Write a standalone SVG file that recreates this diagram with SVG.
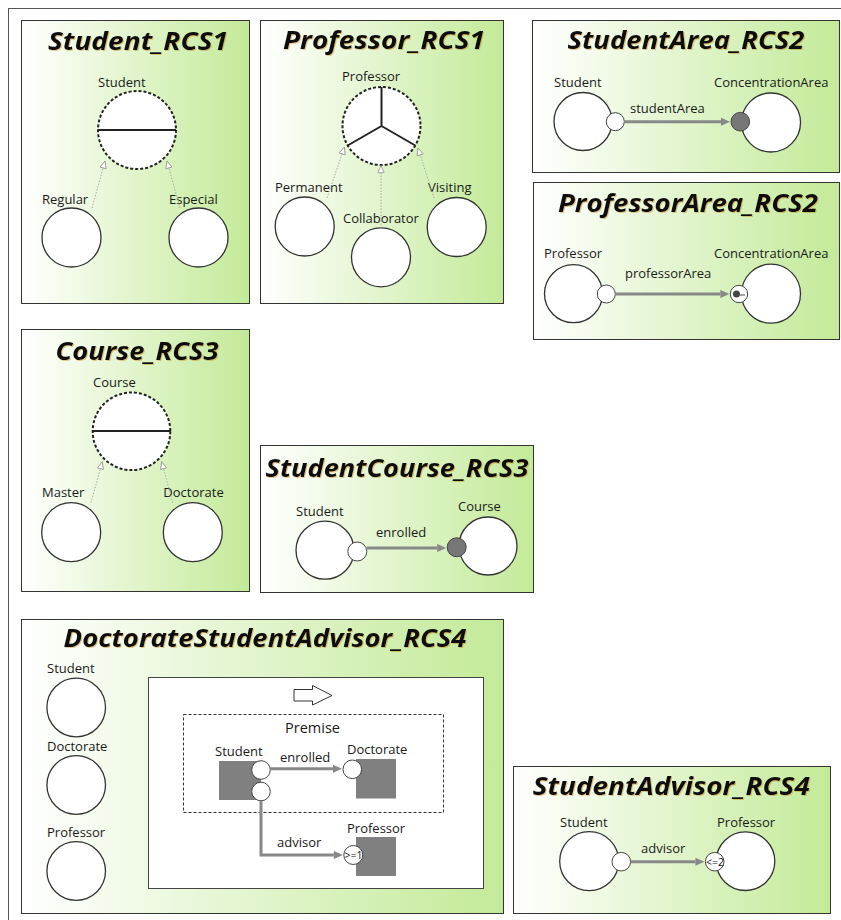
<svg xmlns="http://www.w3.org/2000/svg" width="841" height="920" viewBox="0 0 841 920">
<style>
.panel{fill:url(#pg);stroke:#333;stroke-width:1}
.title{font-family:"Open Sans","DejaVu Sans",sans-serif;font-weight:bold;font-style:italic;font-size:25px;fill:#111;text-anchor:middle;filter:url(#glow)}
.lbl{font-family:"Open Sans","DejaVu Sans",sans-serif;font-size:13px;fill:#1a1a1a}
.node{fill:#fff;stroke:#333;stroke-width:1.3}
.dnode{fill:#fff;stroke:#222;stroke-width:2;stroke-dasharray:3 2}
.div{stroke:#222;stroke-width:2;fill:none}
.port{fill:#fff;stroke:#444;stroke-width:1}
.fport{fill:#777;stroke:#444;stroke-width:1}
.gen{stroke:#aaa;stroke-width:1;stroke-dasharray:1.5 1.5;fill:none;marker-end:url(#genh)}
.rel{stroke:#888;stroke-width:3;fill:none;marker-end:url(#arr)}
.grect{fill:#808080}
.card{font-family:"Open Sans","DejaVu Sans",sans-serif;font-size:10.5px;fill:#111;text-anchor:middle}
</style>
<defs>
<linearGradient id="pg" x1="0" y1="0" x2="1" y2="0">
<stop offset="0" stop-color="#ffffff"/>
<stop offset="1" stop-color="#c3ea98"/>
</linearGradient>
<filter id="glow" x="-5%" y="-20%" width="110%" height="140%">
<feDropShadow dx="1" dy="1" stdDeviation="0.7" flood-color="#c07a10" flood-opacity="0.4"/>
</filter>
<marker id="genh" viewBox="0 0 10 10" refX="9" refY="5" markerWidth="9" markerHeight="9" orient="auto" markerUnits="userSpaceOnUse">
<path d="M1,1.5 L9,5 L1,8.5 Z" fill="#fff" stroke="#999" stroke-width="1"/>
</marker>
<marker id="arr" viewBox="0 0 10 10" refX="0" refY="5" markerWidth="10" markerHeight="9" orient="auto" markerUnits="userSpaceOnUse">
<path d="M0,0.5 L10,5 L0,9.5 Z" fill="#888"/>
</marker>
</defs>
<rect x="0" y="0" width="841" height="920" fill="#fff"/>
<rect x="8.5" y="8.5" width="900" height="1000" fill="none" stroke="#555" stroke-width="1"/>

<!-- Panel 1 -->
<g id="student_rcs1">
<rect class="panel" x="21.5" y="20.5" width="228" height="283"/>
<text class="title" x="138" y="50" textLength="180" lengthAdjust="spacingAndGlyphs">Student_RCS1</text>
<g id="p1_student"><text class="lbl" x="98" y="87">Student</text><circle class="dnode" cx="137" cy="130" r="39"/><line class="div" x1="98" y1="130" x2="176" y2="130"/></g>
<g id="p1_regular"><text class="lbl" x="42" y="204">Regular</text><circle class="node" cx="71.5" cy="237.5" r="29.5"/></g>
<g id="p1_especial"><text class="lbl" x="169" y="204">Especial</text><circle class="node" cx="198.5" cy="237.5" r="29.5"/></g>
</g>

<!-- Panel 2 -->
<g id="professor_rcs1">
<rect class="panel" x="260.5" y="20.5" width="243" height="283"/>
<text class="title" x="384" y="49" textLength="202" lengthAdjust="spacingAndGlyphs">Professor_RCS1</text>
<g id="p2_professor"><text class="lbl" x="342" y="81">Professor</text><circle class="dnode" cx="381.5" cy="126" r="39"/>
<path class="div" d="M381.5,126 L381.5,87 M381.5,126 L347.7,145.5 M381.5,126 L415.3,145.5"/></g>
<g id="p2_permanent"><text class="lbl" x="275" y="192">Permanent</text><circle class="node" cx="304.7" cy="226.5" r="29.5"/></g>
<g id="p2_collaborator"><text class="lbl" x="343" y="223">Collaborator</text><circle class="node" cx="381" cy="257.3" r="29.5"/></g>
<g id="p2_visiting"><text class="lbl" x="428" y="192">Visiting</text><circle class="node" cx="456.7" cy="227" r="29.5"/></g>
</g>

<!-- Panel 3 -->
<g id="studentarea_rcs2">
<rect class="panel" x="532.5" y="20.5" width="307" height="152"/>
<text class="title" x="686" y="49" textLength="237" lengthAdjust="spacingAndGlyphs">StudentArea_RCS2</text>
<g id="p3_student"><text class="lbl" x="554" y="87">Student</text><circle class="node" cx="583" cy="121.5" r="29"/><circle class="port" cx="615.3" cy="121.7" r="9"/></g>
<g id="p3_area"><text class="lbl" x="714" y="87">ConcentrationArea</text><circle class="node" cx="771" cy="122.5" r="29.5"/><circle class="fport" cx="740.3" cy="121.7" r="9.3"/></g>
<text class="lbl" x="630" y="113">studentArea</text>
</g>

<!-- Panel 4 -->
<g id="professorarea_rcs2">
<rect class="panel" x="533.5" y="182.5" width="306" height="157"/>
<text class="title" x="688" y="212" textLength="260" lengthAdjust="spacingAndGlyphs">ProfessorArea_RCS2</text>
<g id="p4_professor"><text class="lbl" x="544" y="258">Professor</text><circle class="node" cx="573.5" cy="293.7" r="29"/><circle class="port" cx="606.3" cy="294" r="9"/></g>
<g id="p4_area"><text class="lbl" x="714" y="258">ConcentrationArea</text><circle class="node" cx="771" cy="293.7" r="29.5"/><circle class="port" cx="739" cy="294" r="8.7"/><circle cx="736.5" cy="294" r="3.5" fill="#444"/><line x1="740" y1="295" x2="745" y2="295" stroke="#444" stroke-width="1"/></g>
<text class="lbl" x="625" y="278">professorArea</text>
</g>

<!-- Panel 5 -->
<g id="course_rcs3">
<rect class="panel" x="21.5" y="329.5" width="228" height="262"/>
<text class="title" x="137" y="360" textLength="163" lengthAdjust="spacingAndGlyphs">Course_RCS3</text>
<g id="p5_course"><text class="lbl" x="93" y="387">Course</text><circle class="dnode" cx="131.5" cy="431.3" r="38.8"/><line class="div" x1="92.7" y1="431" x2="170.3" y2="431"/></g>
<g id="p5_master"><text class="lbl" x="42" y="497">Master</text><circle class="node" cx="71.2" cy="532.2" r="29.5"/></g>
<g id="p5_doctorate"><text class="lbl" x="163.3" y="497">Doctorate</text><circle class="node" cx="192.8" cy="532.2" r="29.5"/></g>
</g>

<!-- Panel 6 -->
<g id="studentcourse_rcs3">
<rect class="panel" x="260.5" y="445.5" width="273" height="147"/>
<text class="title" x="397" y="477" textLength="263" lengthAdjust="spacingAndGlyphs">StudentCourse_RCS3</text>
<g id="p6_student"><text class="lbl" x="296" y="516">Student</text><circle class="node" cx="325" cy="550.2" r="29"/><circle class="port" cx="357.3" cy="551.5" r="9.5"/></g>
<g id="p6_course"><text class="lbl" x="458" y="511">Course</text><circle class="node" cx="488" cy="546" r="29"/><circle class="fport" cx="456.7" cy="547.3" r="9.5"/></g>
<text class="lbl" x="376" y="537">enrolled</text>
</g>

<!-- Panel 7 -->
<g id="doctoratestudentadvisor_rcs4">
<rect class="panel" x="21.5" y="619.5" width="482" height="294"/>
<text class="title" x="265" y="647" textLength="403" lengthAdjust="spacingAndGlyphs">DoctorateStudentAdvisor_RCS4</text>
<g id="p7_student"><text class="lbl" x="47" y="673">Student</text><circle class="node" cx="76.2" cy="707.5" r="29.3"/></g>
<g id="p7_doctorate"><text class="lbl" x="47" y="751">Doctorate</text><circle class="node" cx="76.2" cy="785" r="29.3"/></g>
<g id="p7_professor"><text class="lbl" x="47" y="837">Professor</text><circle class="node" cx="76.2" cy="871" r="29.3"/></g>
<g id="p7_rule">
<rect x="148.5" y="677.5" width="335" height="211" fill="#fff" stroke="#444" stroke-width="1"/>
<polygon points="294,689.5 312.5,689.5 312.5,685.5 332,695.5 312.5,705 312.5,701 294,701" fill="#fff" stroke="#333" stroke-width="1"/>
<rect x="183.5" y="714.5" width="260" height="98" fill="none" stroke="#333" stroke-width="1" stroke-dasharray="3 2"/>
<text x="312.5" y="733" font-family="Open Sans, DejaVu Sans, sans-serif" font-size="14.5" fill="#1a1a1a" text-anchor="middle">Premise</text>
</g>
<g id="p7_rstudent"><text class="lbl" x="215" y="756">Student</text><rect class="grect" x="219" y="761" width="42" height="39"/><circle class="port" cx="261" cy="770" r="9.3"/><circle class="port" cx="261" cy="791.5" r="9.3"/></g>
<g id="p7_rdoctorate"><text class="lbl" x="347" y="754">Doctorate</text><rect class="grect" x="356" y="759" width="40" height="39.5"/><circle class="port" cx="352.3" cy="769.3" r="9.3"/></g>
<g id="p7_rprofessor"><text class="lbl" x="347" y="833">Professor</text><rect class="grect" x="356" y="837" width="40" height="39"/><circle class="port" cx="353.3" cy="855" r="9.5"/><text class="card" x="353.5" y="858.8">&gt;=1</text></g>
<text class="lbl" x="280" y="762">enrolled</text>
<text class="lbl" x="277" y="847">advisor</text>
</g>

<!-- Panel 8 -->
<g id="studentadvisor_rcs4">
<rect class="panel" x="513.5" y="766.5" width="317" height="147"/>
<text class="title" x="671.3" y="795" textLength="277" lengthAdjust="spacingAndGlyphs">StudentAdvisor_RCS4</text>
<g id="p8_student"><text class="lbl" x="560" y="827">Student</text><circle class="node" cx="589.2" cy="861.2" r="29.5"/><circle class="port" cx="621.3" cy="861.7" r="9.3"/></g>
<g id="p8_professor"><text class="lbl" x="717" y="827">Professor</text><circle class="node" cx="745.5" cy="861.2" r="29.3"/><circle class="port" cx="714.7" cy="861.7" r="9.3"/><text class="card" x="715" y="865.5">&lt;=2</text></g>
<text class="lbl" x="641" y="853">advisor</text>
</g>

<!-- Connectors -->
<g id="connectors">
<path class="gen" d="M92,208 L105,161"/>
<path class="gen" d="M180,208 L167,161"/>
<path class="gen" d="M327,198 L344.5,147"/>
<path class="gen" d="M381,228 L381,165.5"/>
<path class="gen" d="M434,198 L418,148"/>
<path class="gen" d="M91,502.7 L102.3,461.7"/>
<path class="gen" d="M172.7,502.7 L161.7,461.7"/>
<path class="rel" d="M624.3,121.7 L721,121.7"/>
<path class="rel" d="M615.3,294 L720.3,294"/>
<path class="rel" d="M366.8,548 L437.2,548"/>
<path class="rel" d="M270.3,768.7 L333,768.7"/>
<path class="rel" d="M261,800.8 L261,855 L333.8,855"/>
<path class="rel" d="M630.6,861.7 L695.4,861.7"/>
</g>
</svg>
